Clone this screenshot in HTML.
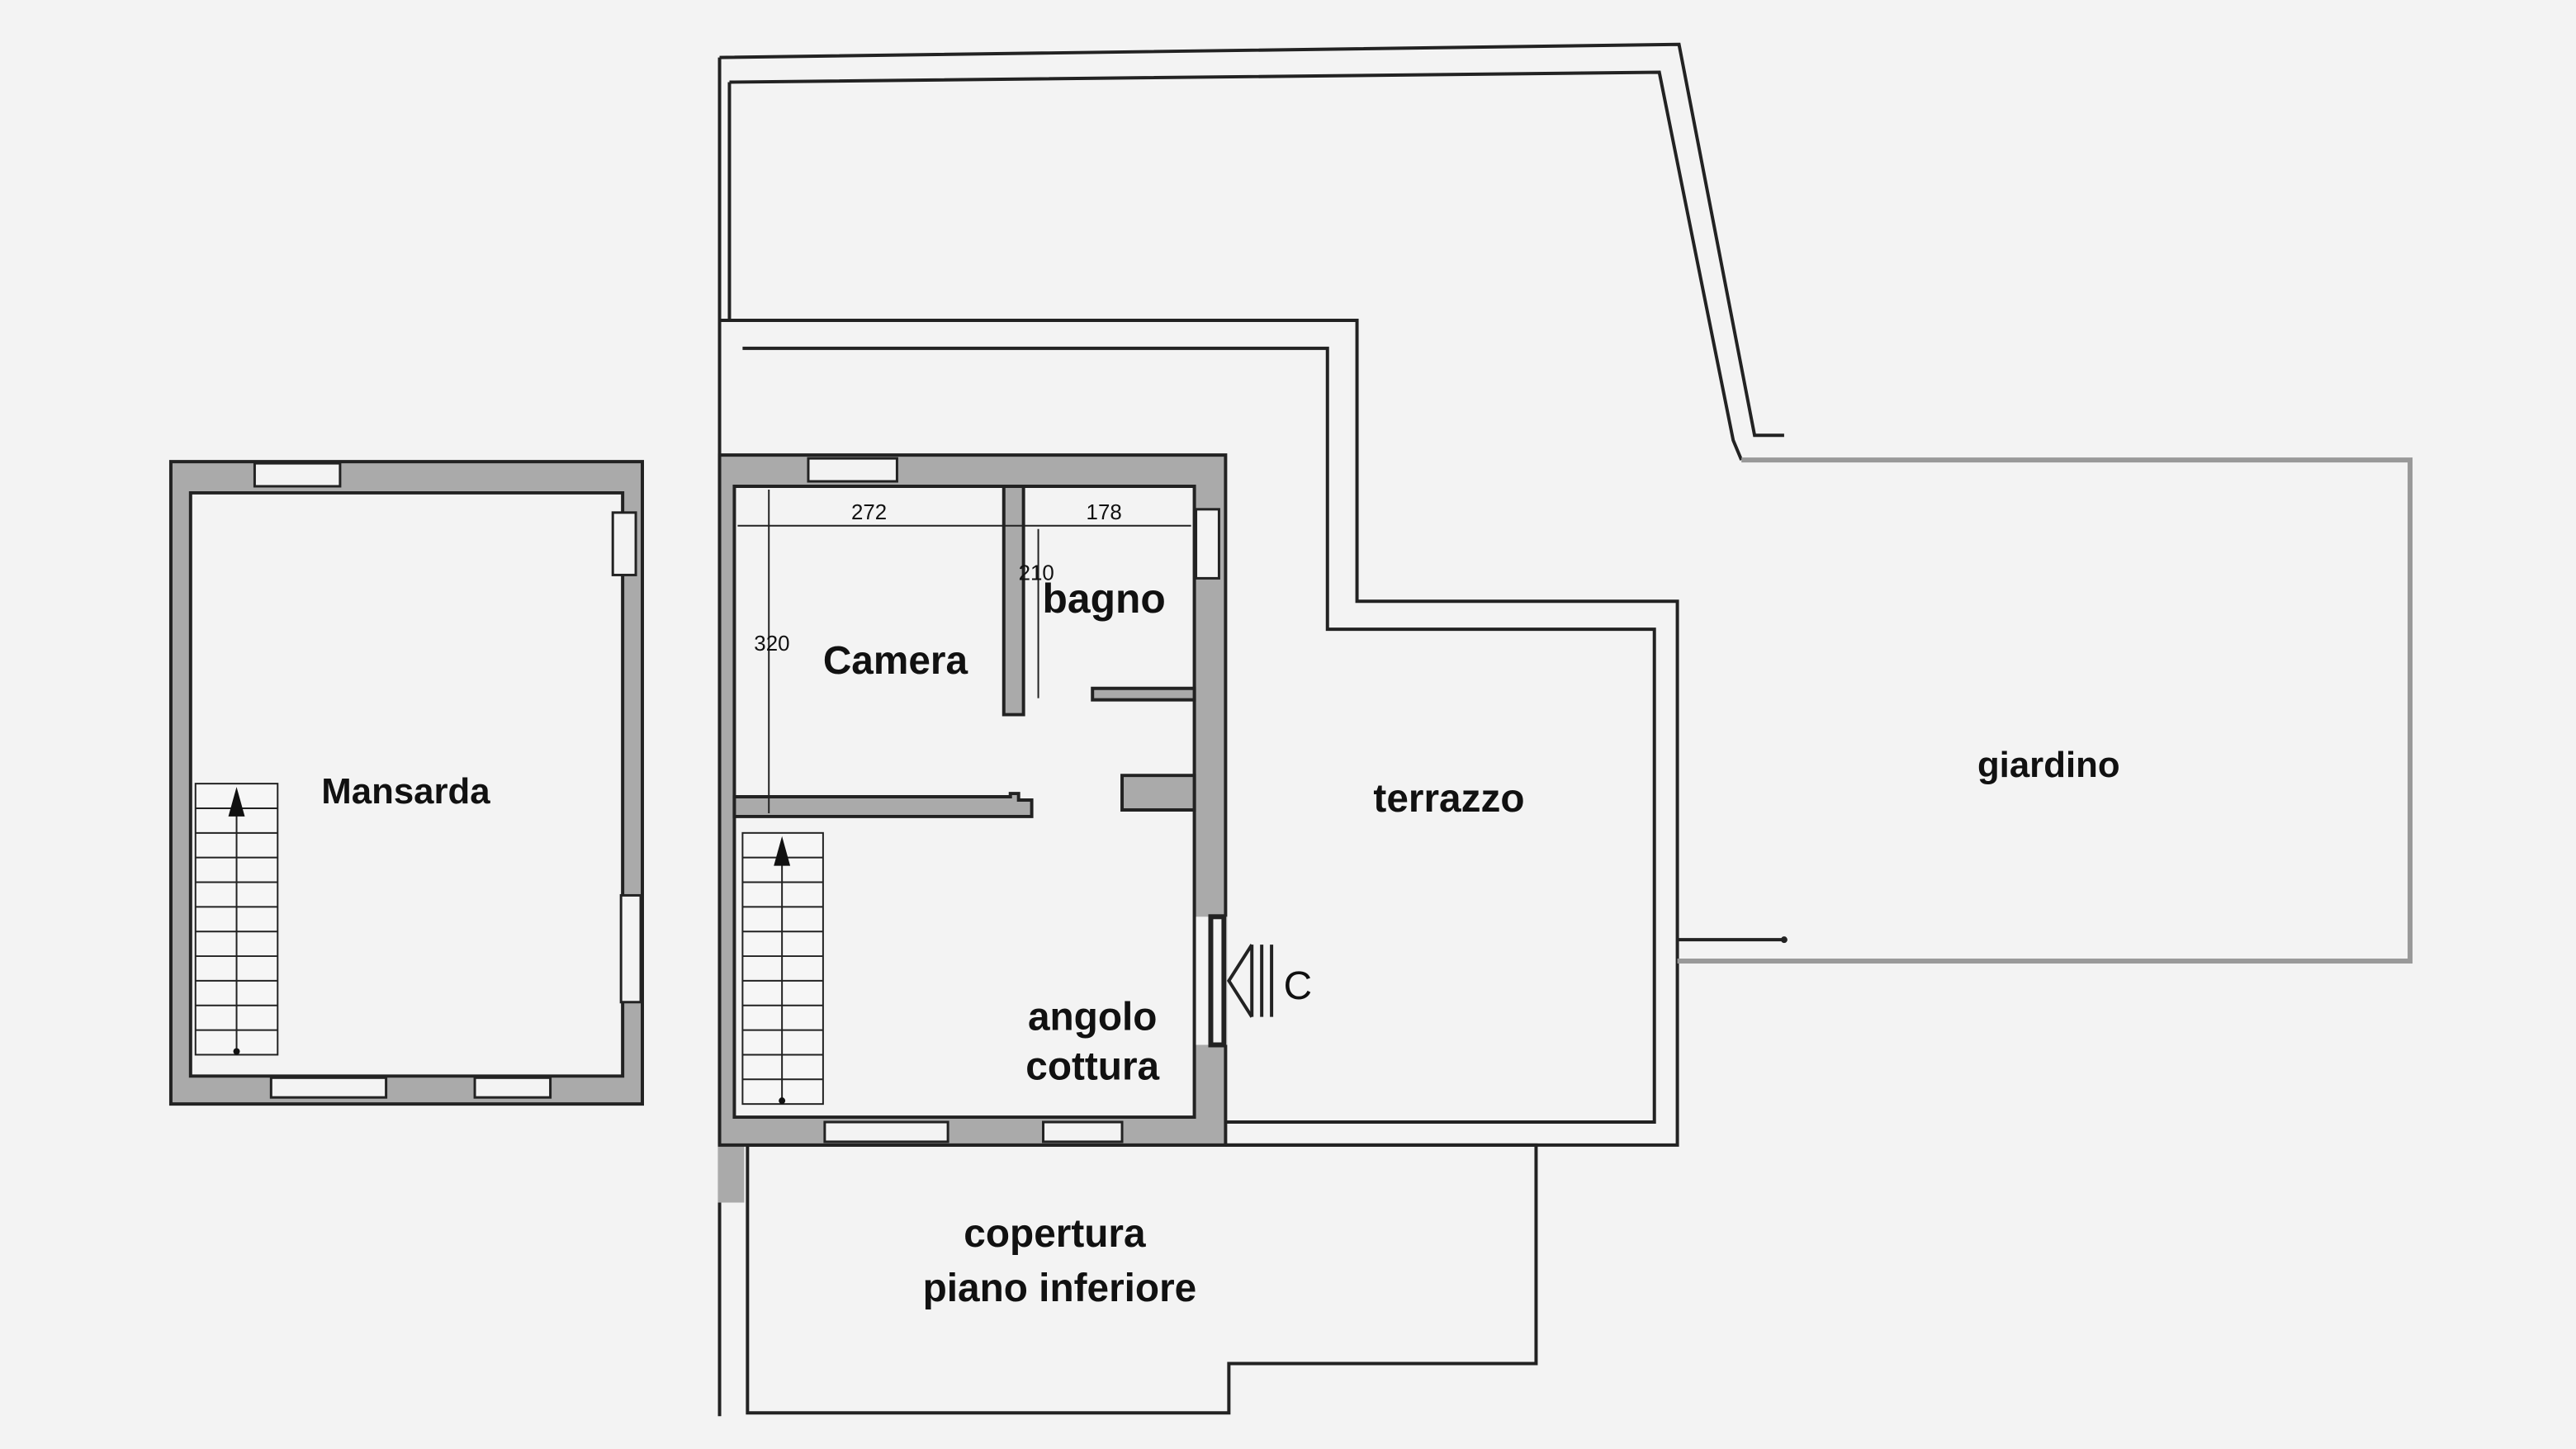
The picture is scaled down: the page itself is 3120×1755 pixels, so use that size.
<!DOCTYPE html>
<html><head><meta charset="utf-8"><style>
html,body{margin:0;padding:0;background:#f3f3f3;}
svg{display:block;}
text{font-family:"Liberation Sans",sans-serif;fill:#111;}
</style></head><body>
<svg width="3120" height="1755" viewBox="0 0 1568 882" preserveAspectRatio="none" xmlns="http://www.w3.org/2000/svg">
<rect width="1568" height="882" fill="#f3f3f3"/>
<g fill="none" stroke="#222" stroke-width="2">
<polyline points="438,35 1022,27 1068,265 1086,265"/>
<polyline points="444,50 1010,44 1055,268 1060,280"/>
<line x1="438" y1="35" x2="438" y2="862"/>
<line x1="444" y1="50" x2="444" y2="195"/>
<polyline points="438,195 826,195 826,366 1021,366 1021,697 746,697"/>
<polyline points="452,212 808,212 808,383 1007,383 1007,683 746,683"/>
<line x1="1021" y1="572" x2="1086" y2="572"/>
<polyline points="455,697 935,697 935,830 748,830 748,860 455,860 455,697"/>
</g>
<circle cx="1086" cy="572" r="2" fill="#222"/>
<polyline points="1060,280 1467,280 1467,585 1021,585" fill="none" stroke="#999" stroke-width="3"/>
<rect x="437" y="697" width="16" height="35" fill="#aaa"/>

<path fill="#aaa" stroke="#222" stroke-width="2" fill-rule="evenodd" d="M104,281 H391 V672 H104 Z M116,300 H379 V655 H116 Z"/>
<rect x="155" y="282" width="52" height="14" fill="#f3f3f3" stroke="#222" stroke-width="1.5"/>
<rect x="373" y="312" width="14" height="38" fill="#f3f3f3" stroke="#222" stroke-width="1.5"/>
<rect x="378" y="545" width="12" height="65" fill="#f3f3f3" stroke="#222" stroke-width="1.5"/>
<rect x="165" y="656" width="70" height="12" fill="#f3f3f3" stroke="#222" stroke-width="1.5"/>
<rect x="289" y="656" width="46" height="12" fill="#f3f3f3" stroke="#222" stroke-width="1.5"/>
<g stroke="#222" stroke-width="1" fill="none">
<rect x="119" y="477" width="50" height="165" fill="#f6f6f6"/>
<path d="M119,492H169M119,507H169M119,522H169M119,537H169M119,552H169M119,567H169M119,582H169M119,597H169M119,612H169M119,627H169"/>
<line x1="144" y1="640" x2="144" y2="490"/>
</g>
<polygon points="139,497 144,479 149,497" fill="#111"/>
<circle cx="144" cy="640" r="2" fill="#111"/>

<path fill="#aaa" stroke="#222" stroke-width="2" fill-rule="evenodd" d="M438,277 H746 V697 H438 Z M447,296 H727 V680 H447 Z"/>
<rect x="492" y="279" width="54" height="14" fill="#f3f3f3" stroke="#222" stroke-width="1.5"/>
<rect x="728" y="310" width="14" height="42" fill="#f3f3f3" stroke="#222" stroke-width="1.5"/>
<rect x="728" y="558" width="19" height="78" fill="#f3f3f3"/>
<rect x="737" y="558" width="8" height="78" fill="#f3f3f3" stroke="#222" stroke-width="3"/>
<rect x="502" y="683" width="75" height="12" fill="#f3f3f3" stroke="#222" stroke-width="1.5"/>
<rect x="635" y="683" width="48" height="12" fill="#f3f3f3" stroke="#222" stroke-width="1.5"/>
<path fill="#aaa" stroke="#222" stroke-width="2" d="M611,296 H623 V435 H611 Z"/>
<path fill="#aaa" stroke="#222" stroke-width="2" d="M447,485 H615 V483 H620 V487 H628 V497 H447 Z"/>
<path fill="#aaa" stroke="#222" stroke-width="2" d="M683,472 H727 V493 H683 Z"/>
<path fill="#aaa" stroke="#222" stroke-width="2" d="M665,419 H727 V426 H665 Z"/>
<g stroke="#222" stroke-width="1" fill="none">
<line x1="449" y1="320" x2="725" y2="320"/>
<line x1="468" y1="298" x2="468" y2="495"/>
<line x1="632" y1="322" x2="632" y2="425"/>
<rect x="452" y="507" width="49" height="165" fill="#f6f6f6"/>
<path d="M452,522H501M452,537H501M452,552H501M452,567H501M452,582H501M452,597H501M452,612H501M452,627H501M452,642H501M452,657H501"/>
<line x1="476" y1="670" x2="476" y2="520"/>
</g>
<polygon points="471,527 476,509 481,527" fill="#111"/>
<circle cx="476" cy="670" r="2" fill="#111"/>
<g stroke="#222" stroke-width="2" fill="none">
<polyline points="762,575 748,597 762,619"/>
<line x1="762" y1="575" x2="762" y2="619"/>
<line x1="768" y1="575" x2="768" y2="619"/>
<line x1="774" y1="575" x2="774" y2="619"/>
</g>

<text x="529" y="316" font-size="13" text-anchor="middle">272</text>
<text x="672" y="316" font-size="13" text-anchor="middle">178</text>
<text x="620" y="353" font-size="13">210</text>
<text x="459" y="396" font-size="13">320</text>
<text x="545" y="410" font-size="24" font-weight="bold" text-anchor="middle">Camera</text>
<text x="672" y="373" font-size="25" font-weight="bold" text-anchor="middle">bagno</text>
<text x="247" y="489" font-size="22" font-weight="bold" text-anchor="middle">Mansarda</text>
<text x="882" y="494" font-size="24" font-weight="bold" text-anchor="middle">terrazzo</text>
<text x="1247" y="473" font-size="22" font-weight="bold" text-anchor="middle">giardino</text>
<text x="790" y="608" font-size="24" text-anchor="middle">C</text>
<text x="665" y="627" font-size="24" font-weight="bold" text-anchor="middle">angolo</text>
<text x="665" y="657" font-size="24" font-weight="bold" text-anchor="middle">cottura</text>
<text x="642" y="759" font-size="24" font-weight="bold" text-anchor="middle">copertura</text>
<text x="645" y="792" font-size="24" font-weight="bold" text-anchor="middle">piano inferiore</text>
</svg>
</body></html>
